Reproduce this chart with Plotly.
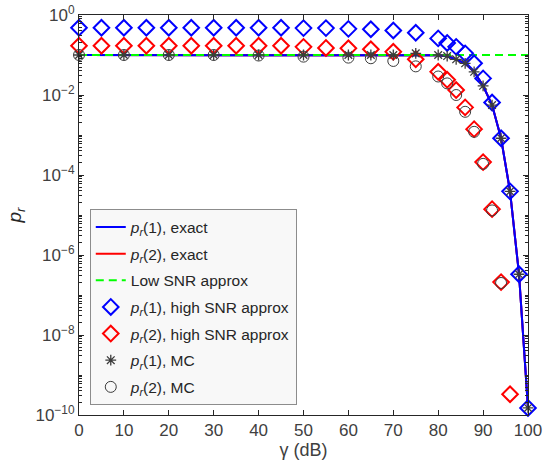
import plotly.graph_objects as go

# ---------------- data ----------------
x_hi = [0, 5, 10, 15, 20, 25, 30, 35, 40, 45, 50, 55, 60, 65, 70, 75,
        80, 82, 84, 86, 88, 90, 92, 94, 96, 98, 100]
p1_hi = [0.48, 0.48, 0.48, 0.48, 0.48, 0.48, 0.48, 0.48, 0.48, 0.48, 0.47, 0.47,
         0.45, 0.44, 0.41, 0.36, 0.26, 0.20, 0.16, 0.11, 0.062, 0.026, 0.0065,
         8.3e-4, 3.9e-5, 3.3e-7, 1.5e-10]
p2_hi = [0.17, 0.17, 0.17, 0.17, 0.17, 0.17, 0.17, 0.17, 0.17, 0.17, 0.16, 0.15,
         0.147, 0.139, 0.12, 0.078, 0.038, 0.024, 0.0133, 0.0049, 0.0014, 2.1e-4,
         1.4e-5, 2.1e-7, 3.3e-10, None, None]

x_mc = [0, 10, 20, 30, 40, 50, 60, 65, 70, 75, 80, 82, 84, 86, 88, 90, 92, 94, 96, 98, 100]
p1_mc = [0.1, 0.1, 0.1, 0.1, 0.1, 0.1, 0.1, 0.1, 0.1, 0.11, 0.1, 0.094, 0.078, 0.062,
         0.038, 0.017, 0.0056, 8.3e-4, 3.9e-5, 3.3e-7, 1.5e-10]
p2_mc = [0.1, 0.1, 0.1, 0.1, 0.097, 0.091, 0.086, 0.083, 0.071, 0.052, 0.029, 0.0195,
         0.010, 0.0038, 0.0012, 1.9e-4, 1.3e-5, 2.0e-7, None, None, None]

x_exact = [0, 10, 20, 30, 40, 50, 60, 70, 75, 80, 82, 84, 86, 88, 90, 92, 94, 96, 98, 100]
p1_exact = [0.1, 0.1, 0.1, 0.1, 0.1, 0.1, 0.1, 0.1, 0.1, 0.098, 0.093, 0.078, 0.061,
            0.038, 0.017, 0.0056, 8.3e-4, 3.9e-5, 3.3e-7, 1.5e-10]
p2_exact = p1_exact  # hidden under the blue curve in the reference

x_low = [0, 100]
p_low = [0.1, 0.1]

x_ticks = [0, 10, 20, 30, 40, 50, 60, 70, 80, 90, 100]
y_tickvals = [1, 1e-2, 1e-4, 1e-6, 1e-8, 1e-10]
y_ticktext = ["10<sup>0</sup>", "10<sup>−2</sup>", "10<sup>−4</sup>",
              "10<sup>−6</sup>", "10<sup>−8</sup>", "10<sup>−10</sup>"]

PR = "<i>p</i><sub><i>r</i></sub>"
GRAY = "#3c3c3c"
FONT = "Liberation Sans, Arial, sans-serif"

fig = go.Figure()
fig.add_trace(go.Scatter(x=x_exact, y=p1_exact, mode="lines", name=PR + "(1), exact",
                         legendgroup="g1", legendrank=1,
                         line=dict(color="#0000ff", width=2)))
fig.add_trace(go.Scatter(x=x_exact, y=p2_exact, mode="lines", name=PR + "(2), exact",
                         legendgroup="g2", legendrank=2,
                         line=dict(color="#ff0000", width=2)))
# blue drawn again on top, so the red exact curve stays hidden as in the reference
fig.add_trace(go.Scatter(x=x_exact, y=p1_exact, mode="lines", showlegend=False,
                         legendgroup="g1", line=dict(color="#0000ff", width=2)))
fig.add_trace(go.Scatter(x=x_low, y=p_low, mode="lines", name="Low SNR approx",
                         legendgroup="g3", legendrank=3,
                         line=dict(color="#00ff00", width=2, dash="8px,5px")))
fig.add_trace(go.Scatter(x=x_hi, y=p1_hi, mode="markers", name=PR + "(1), high SNR approx",
                         legendgroup="g4", legendrank=4,
                         marker=dict(symbol="diamond-open", size=12, color="#0000ff",
                                     line=dict(width=2, color="#0000ff")), cliponaxis=False))
fig.add_trace(go.Scatter(x=x_hi, y=p2_hi, mode="markers", name=PR + "(2), high SNR approx",
                         legendgroup="g5", legendrank=5,
                         marker=dict(symbol="diamond-open", size=12, color="#ff0000",
                                     line=dict(width=2, color="#ff0000")), cliponaxis=False))
fig.add_trace(go.Scatter(x=x_mc, y=p1_mc, mode="markers", name=PR + "(1), MC",
                         legendgroup="g6", legendrank=6,
                         marker=dict(symbol="asterisk-open", size=9, color=GRAY,
                                     line=dict(width=1.3, color=GRAY)), cliponaxis=False))
fig.add_trace(go.Scatter(x=x_mc, y=p2_mc, mode="markers", name=PR + "(2), MC",
                         legendgroup="g7", legendrank=7,
                         marker=dict(symbol="circle-open", size=11, color=GRAY,
                                     line=dict(width=1, color=GRAY)), cliponaxis=False))

axis_common = dict(showline=True, mirror="ticks", linecolor="#262626", linewidth=1,
                   ticks="inside", tickcolor="#262626", showgrid=False, zeroline=False,
                   automargin=False, ticklabeloverflow="allow",
                   tickfont=dict(family=FONT, size=17, color="#404040"))

fig.update_layout(
    width=547, height=460,
    margin=dict(l=79, r=19, t=15, b=45),
    paper_bgcolor="white", plot_bgcolor="white",
    font=dict(family=FONT, color="#262626"),
    xaxis=dict(range=[0, 100], tickvals=x_ticks, ticklen=5,
               title=dict(text="γ (dB)", font=dict(family=FONT, size=18, color="#404040"),
                          standoff=4),
               **axis_common),
    yaxis=dict(type="log", range=[-10, 0], tickvals=y_tickvals, ticktext=y_ticktext,
               ticklen=5,
               minor=dict(ticks="inside", ticklen=3, dtick="D1", tickcolor="#262626"),
               title=dict(text="<i>p</i><sub><i>r</i></sub>",
                          font=dict(family=FONT, size=19, color="#262626"), standoff=8),
               **axis_common),
    legend=dict(x=0.024, y=0.514, xanchor="left", yanchor="top",
                bgcolor="#f8f8f8", bordercolor="#8c8c8c", borderwidth=1,
                font=dict(family=FONT, size=15.5, color="#262626"),
                tracegroupgap=3.5, itemwidth=30, traceorder="grouped"),
    showlegend=True,
)

# remove the default 8px page margin so the figure fills the window exactly
fig.write_html("out.html", config={"displayModeBar": False},
               post_script="document.body.style.margin='0';")
